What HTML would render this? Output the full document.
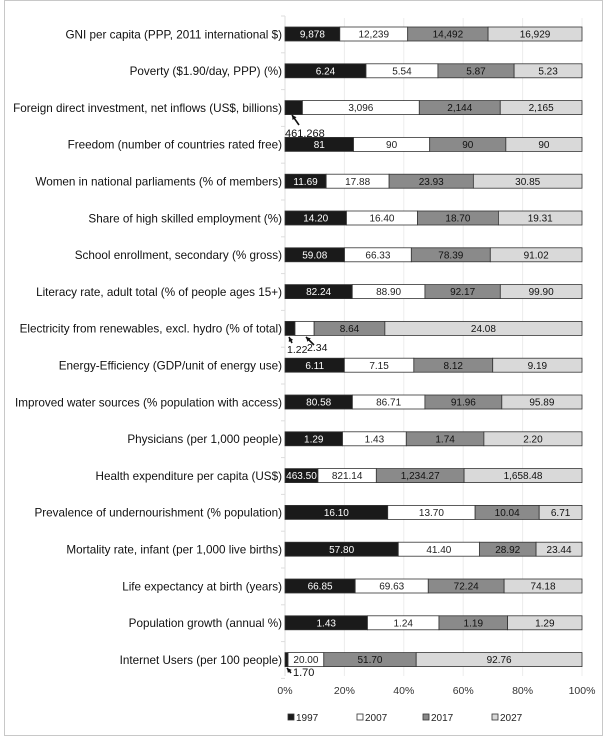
<!DOCTYPE html>
<html><head><meta charset="utf-8"><style>
html,body{margin:0;padding:0;background:#fff;}
svg{display:block;font-family:"Liberation Sans",Arial,sans-serif;}
</style></head><body>
<svg id="s" width="606" height="738" viewBox="0 0 606 738" xmlns="http://www.w3.org/2000/svg">
<rect x="4.5" y="0.5" width="598" height="735" fill="#fff" stroke="#c8c8c8"/>
</svg>
<script>
const rows=[
["GNI per capita (PPP, 2011 international $)",[9878,12239,14492,16929],["9,878","12,239","14,492","16,929"]],
["Poverty ($1.90/day, PPP) (%)",[6.24,5.54,5.87,5.23]],
["Foreign direct investment, net inflows (US$, billions)",[461.268,3096,2144,2165],["","3,096","2,144","2,165"]],
["Freedom (number of countries rated free)",[81,90,90,90],["81","90","90","90"]],
["Women in national parliaments (% of members)",[11.69,17.88,23.93,30.85]],
["Share of high skilled employment  (%)",[14.20,16.40,18.70,19.31]],
["School enrollment, secondary (% gross)",[59.08,66.33,78.39,91.02]],
["Literacy rate, adult total (% of people ages 15+)",[82.24,88.90,92.17,99.90]],
["Electricity from renewables, excl. hydro (% of total)",[1.22,2.34,8.64,24.08],["","","8.64","24.08"]],
["Energy-Efficiency (GDP/unit of energy use)",[6.11,7.15,8.12,9.19]],
["Improved water sources (% population with access)",[80.58,86.71,91.96,95.89]],
["Physicians (per 1,000 people)",[1.29,1.43,1.74,2.20]],
["Health expenditure per capita (US$)",[463.50,821.14,1234.27,1658.48],["463.50","821.14","1,234.27","1,658.48"]],
["Prevalence of undernourishment (% population)",[16.10,13.70,10.04,6.71]],
["Mortality rate, infant (per 1,000 live births)",[57.80,41.40,28.92,23.44]],
["Life expectancy at birth (years)",[66.85,69.63,72.24,74.18]],
["Population growth (annual %)",[1.43,1.24,1.19,1.29]],
["Internet Users (per 100 people)",[1.70,20.00,51.70,92.76],["","20.00","51.70","92.76"]]
];
const fills=["#1a1a1a","#ffffff","#8a8a8a","#d9d9d9"];
const tc=["#fff","#222","#111","#111"];
const X0=285,W=297;
let h='';
for(let k=1;k<=5;k++){const x=X0+W*k/5;h+=`<line x1="${x}" y1="18" x2="${x}" y2="676" stroke="#ececec"/>`;}
h+=`<line x1="${X0}" y1="16" x2="${X0}" y2="676" stroke="#ddd"/>`;
for(let i=0;i<=18;i++){const y=16+i*36.8;h+=`<line x1="${X0-4}" y1="${y}" x2="${X0}" y2="${y}" stroke="#ddd"/>`;}
rows.forEach((r,i)=>{
 const cy=34+i*36.8, bh=14, y=cy-bh/2;
 const s=r[1].reduce((a,b)=>a+b,0);
 h+=`<text x="282" y="${cy+4.3}" font-size="11.7" text-anchor="end" fill="#111">${r[0].replace(/&/g,'&amp;')}</text>`;
 let x=X0;
 r[1].forEach((v,j)=>{
  const w=W*v/s;
  h+=`<rect x="${x}" y="${y}" width="${w}" height="${bh}" fill="${fills[j]}" stroke="#333" stroke-width="0.8"/>`;
  let lab=r[2]?r[2][j]:v.toFixed(2);
  if(lab) h+=`<text x="${x+w/2}" y="${cy+3.6}" font-size="10" text-anchor="middle" fill="${tc[j]}">${lab}</text>`;
  x+=w;
 });
});
function arrow(x1,y1,x2,y2){
 const a=Math.atan2(y2-y1,x2-x1),L=5;
 h+=`<line x1="${x1}" y1="${y1}" x2="${x2}" y2="${y2}" stroke="#111" stroke-width="1.6"/>`;
 h+=`<polygon points="${x2},${y2} ${x2-L*Math.cos(a-0.5)},${y2-L*Math.sin(a-0.5)} ${x2-L*Math.cos(a+0.5)},${y2-L*Math.sin(a+0.5)}" fill="#111"/>`;
}
arrow(299,125,292,115);h+=`<text x="285" y="137" font-size="11" fill="#111">461.268</text>`;
arrow(292,343,289,337);h+=`<text x="287" y="353" font-size="10.5" fill="#111">1.22</text>`;
arrow(314,345,306,337);h+=`<text x="307" y="351" font-size="10.5" fill="#111">2.34</text>`;
arrow(291,673,287,668);h+=`<text x="293" y="676" font-size="11" fill="#111">1.70</text>`;
["0%","20%","40%","60%","80%","100%"].forEach((t,k)=>{h+=`<text x="${X0+W*k/5}" y="694" font-size="10.5" text-anchor="middle" fill="#333">${t}</text>`;});
[["1997",288],["2007",357],["2017",423],["2027",492]].forEach((l,j)=>{
 h+=`<rect x="${l[1]}" y="714" width="6" height="6" fill="${fills[j]}" stroke="#333" stroke-width="0.8"/>`;
 h+=`<text x="${l[1]+8}" y="721" font-size="10" fill="#222">${l[0]}</text>`;
});
document.getElementById('s').insertAdjacentHTML('beforeend',h);
</script>
</body></html>
